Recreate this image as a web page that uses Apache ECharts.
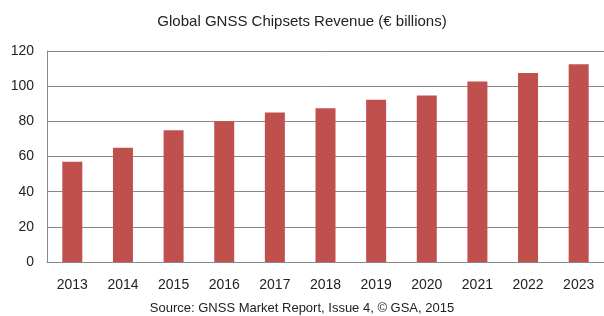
<!DOCTYPE html>
<html>
<head>
<meta charset="utf-8">
<script src="https://cdn.jsdelivr.net/npm/echarts@6/dist/echarts.min.js"></script>
<style>
  html, body { margin: 0; padding: 0; background: #fff; }
  #chart { width: 604px; height: 316px; }
</style>
</head>
<body>
<div id="chart"></div>
<script>
// years and revenue (€ billions)
var years = ['2013', '2014', '2015', '2016', '2017', '2018', '2019', '2020', '2021', '2022', '2023'];
var revenue = [57, 65, 75, 80, 85, 87.5, 92.3, 94.7, 102.7, 107.5, 112.4];
var yTicks = [0, 20, 40, 60, 80, 100, 120];

var font = 'Liberation Sans, Arial, sans-serif';
var chart = echarts.init(document.getElementById('chart'));
var option = {
    animation: false,
    textStyle: { fontFamily: font },
    title: [
        {
            text: 'Global GNSS Chipsets Revenue (€ billions)',
            left: 'center',
            top: 9,
            textStyle: { fontSize: 15, fontWeight: 'normal', color: '#222', fontFamily: font }
        },
        {
            text: 'Source: GNSS Market Report, Issue 4, © GSA, 2015',
            left: 'center',
            top: 297,
            textStyle: { fontSize: 13, fontWeight: 'normal', color: '#222', fontFamily: font }
        }
    ],
    grid: { left: 47, top: 51, width: 561, height: 211 },
    xAxis: {
        type: 'category',
        data: years,
        axisLine: { lineStyle: { color: '#888' } },
        axisTick: { show: false },
        axisLabel: { color: '#222', fontSize: 14, margin: 16 }
    },
    yAxis: {
        type: 'value',
        min: yTicks[0],
        max: yTicks[yTicks.length - 1],
        interval: 20,
        axisLine: { show: true, lineStyle: { color: '#888' } },
        axisTick: { show: false },
        axisLabel: { color: '#222', fontSize: 14, margin: 13 },
        splitLine: { lineStyle: { color: '#888' } }
    },
    series: [
        {
            type: 'bar',
            data: revenue,
            barWidth: 20,
            itemStyle: { color: '#C0504D' }
        }
    ]
};
chart.setOption(option);
</script>
</body>
</html>
